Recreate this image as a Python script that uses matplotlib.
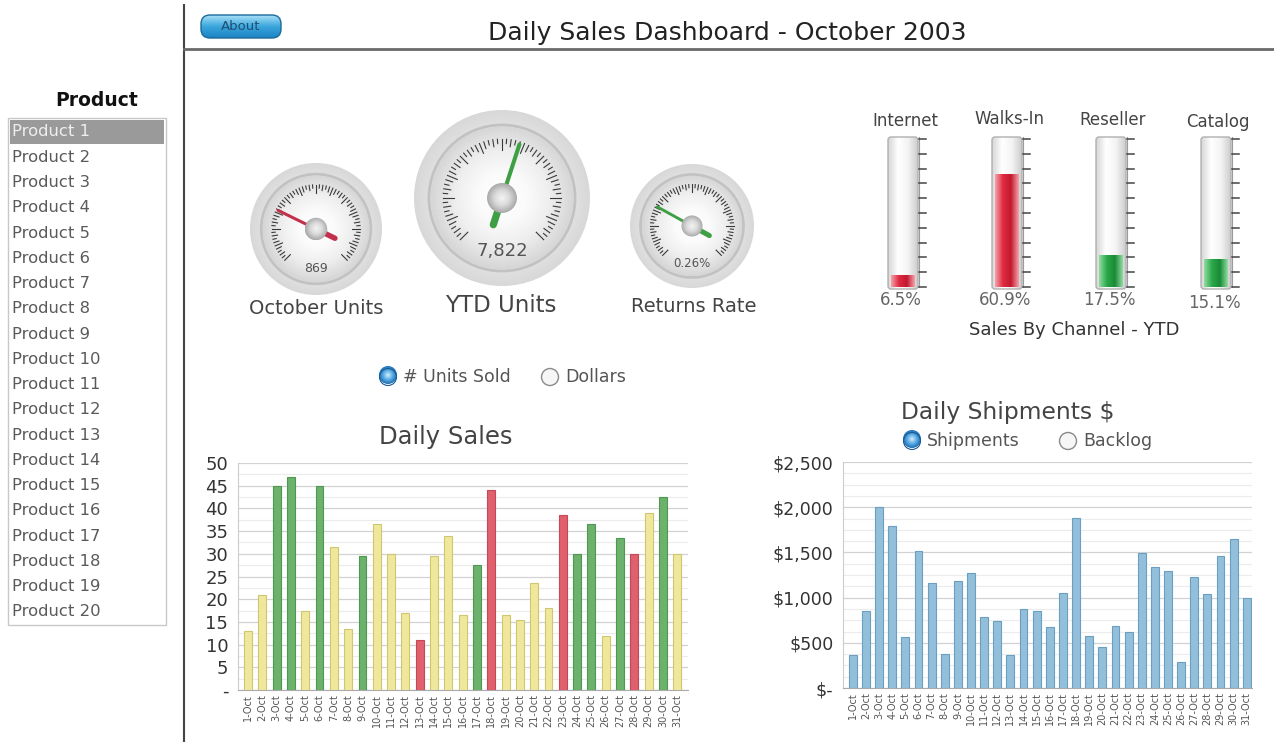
import matplotlib.pyplot as plt
import numpy as np
from matplotlib.patches import Circle, FancyBboxPatch, Rectangle
from matplotlib.colors import LinearSegmentedColormap
from matplotlib.ticker import FuncFormatter, MultipleLocator

W, H = 1274, 742

products = [f"Product {i}" for i in range(1, 21)]
days = [f"{d}-Oct" for d in range(1, 32)]

gauge_names = ["October Units", "YTD Units", "Returns Rate"]
gauge_values = [869, 7822, 0.26]
gauge_max = [3300, 13800, 0.95]
gauge_text = ["869", "7,822", "0.26%"]

channels = ["Internet", "Walks-In", "Reseller", "Catalog"]
channel_share = [6.5, 60.9, 17.5, 15.1]
channel_status = ["bad", "bad", "good", "good"]

units_sold = [13, 21, 45, 47, 17.5, 45, 31.5, 13.5, 29.5, 36.5, 30, 17, 11, 29.5, 34,
              16.5, 27.5, 44, 16.5, 15.5, 23.5, 18, 38.5, 30, 36.5, 12, 33.5, 30, 39,
              42.5, 30]
units_status = list("YYGGYGYYGYYYRYYYGRYYYYRGGYGRYGY")
shipments = [360, 850, 2000, 1790, 560, 1510, 1165, 380, 1180, 1275, 785, 745, 360,
             870, 855, 675, 1055, 1880, 575, 450, 690, 625, 1490, 1340, 1290, 290,
             1230, 1040, 1460, 1650, 1000]

TXT = "#444444"


def radial(ax, cx, cy, r, colors, z=2):
    yy, xx = np.mgrid[-1:1:200j, -1:1:200j]
    rr = np.sqrt(xx**2 + yy**2)
    cmap = LinearSegmentedColormap.from_list("g", colors)
    im = ax.imshow(rr, cmap=cmap, vmin=0, vmax=1, zorder=z,
                   extent=(cx - r, cx + r, cy + r, cy - r), interpolation="bilinear")
    c = Circle((cx, cy), r, fc="none", ec="none")
    ax.add_patch(c)
    im.set_clip_path(c)


def hgrad(ax, x0, y0, w, h, colors, clip, z=2):
    cmap = LinearSegmentedColormap.from_list("h", colors)
    im = ax.imshow(np.linspace(0, 1, 64)[None, :], cmap=cmap, zorder=z, aspect="auto",
                   extent=(x0, x0 + w, y0 + h, y0), interpolation="bilinear")
    ax.add_patch(clip)
    im.set_clip_path(clip)


def gauge(ax, cx, cy, r, value, vmax, text, ncolor, tsize):
    radial(ax, cx, cy, r, ["#ffffff", "#f6f6f6", "#e8e8e8", "#d8d8d8"])
    ax.add_patch(Circle((cx, cy), r * 0.83, fc="none", ec="#c2c2c2", lw=2, zorder=3))
    radial(ax, cx, cy, r * 0.81, ["#ffffff", "#fbfbfb", "#eeeeee", "#d6d6d6"], z=3)
    n = 60
    for i in range(n + 1):
        a = np.radians(225 - 270 * i / n)
        ln = r * 0.12 if i % 5 == 0 else (r * 0.08 if i % 2 == 0 else r * 0.05)
        r1 = r * 0.67
        ax.plot([cx + r1 * np.cos(a), cx + (r1 - ln) * np.cos(a)],
                [cy - r1 * np.sin(a), cy - (r1 - ln) * np.sin(a)],
                color="#3a3a3a", lw=0.8, zorder=4)
    a = np.radians(225 - 270 * value / vmax)
    ax.plot([cx, cx + r * 0.64 * np.cos(a)], [cy, cy - r * 0.64 * np.sin(a)],
            color=ncolor, lw=r / 30, solid_capstyle="round", zorder=5)
    ax.plot([cx, cx - r * 0.32 * np.cos(a)], [cy, cy + r * 0.32 * np.sin(a)],
            color=ncolor, lw=r / 17, solid_capstyle="round", zorder=5)
    radial(ax, cx, cy, r * 0.17, ["#f4f4f4", "#dadada", "#a8a8a8"], z=6)
    ax.text(cx, cy + r * 0.6, text, ha="center", va="center", fontsize=tsize,
            color="#555555", zorder=7)


fig = plt.figure(figsize=(W / 100, H / 100), dpi=100)
bg = fig.add_axes([0, 0, 1, 1])
bg.axis("off")

# frame lines
bg.plot([184, 184], [5, 742], color="#444444", lw=1.5)
bg.plot([184, 1274], [49, 49], color="#6a6a6a", lw=2)

# about button
btn = FancyBboxPatch((201, 15), 80, 23, boxstyle="round,pad=0,rounding_size=9",
                     fc="none", ec="#1b6a9c", lw=1, zorder=3)
cm_btn = LinearSegmentedColormap.from_list("b", ["#a6def6", "#3aa6dc", "#1c84c4"])
im = bg.imshow(np.linspace(0, 1, 32)[:, None], cmap=cm_btn, aspect="auto", zorder=2,
               extent=(201, 281, 38, 15))
bg.add_patch(btn)
im.set_clip_path(btn)
bg.text(241, 27, "About", ha="center", va="center", fontsize=9.5, color="#1f4e72", zorder=4)
bg.text(727, 33, "Daily Sales Dashboard - October 2003", ha="center", va="center",
        fontsize=18, color="#222222")

# product list
bg.text(97, 101, "Product", ha="center", va="center", fontsize=13.5,
        fontweight="bold", color="#111111")
bg.add_patch(Rectangle((8, 118), 158, 507, fc="white", ec="#c8c8c8", lw=1))
bg.add_patch(Rectangle((10, 120), 154, 24, fc="#9a9a9a", ec="none"))
for i, p in enumerate(products):
    bg.text(12, 132 + i * 25.26, p, ha="left", va="center", fontsize=11.8,
            color="#eeeeee" if i == 0 else "#5a5a5a")

# gauges
centers = [(316, 229, 66), (502, 198, 88), (692, 226, 62)]
needles = ["#c3304c", "#3f9f45", "#3f9f45"]
vsizes = [9, 13, 8.5]
for (cx, cy, r), v, vm, t, nc, vs in zip(centers, gauge_values, gauge_max,
                                        gauge_text, needles, vsizes):
    gauge(bg, cx, cy, r, v, vm, t, nc, vs)
bg.text(316, 308, gauge_names[0], ha="center", va="center", fontsize=14, color=TXT)
bg.text(501, 306, gauge_names[1], ha="center", va="center", fontsize=16.5, color=TXT)
bg.text(694, 306, gauge_names[2], ha="center", va="center", fontsize=14, color=TXT)

# channel thermometers
tube_x = [888, 992, 1096, 1201]
label_y = [121, 119, 120, 122]
val_y = [300, 300, 300, 303]
top, bot, tw = 137, 289, 30
for x0, name, share, st, ly, vy in zip(tube_x, channels, channel_share,
                                       channel_status, label_y, val_y):
    box = FancyBboxPatch((x0, top), tw, bot - top, boxstyle="round,pad=0,rounding_size=3",
                         fc="none", ec="none", zorder=3)
    hgrad(bg, x0, top, tw, bot - top, ["#d6d6d6", "#ffffff", "#f4f4f4", "#cdcdcd"], box)
    bg.add_patch(FancyBboxPatch((x0, top), tw, bot - top,
                                boxstyle="round,pad=0,rounding_size=3",
                                fc="none", ec="#b0b0b0", lw=1, zorder=4))
    span = bot - top - 4
    fh = span * share / 80
    cols = (["#f5a0a8", "#de2a40", "#c41a30", "#f5a0a8"] if st == "bad"
            else ["#90dca0", "#2aa848", "#1a8a38", "#90dca0"])
    fill = Rectangle((x0 + 3, bot - 2 - fh), tw - 6, fh, fc="none", ec="none")
    hgrad(bg, x0 + 3, bot - 2 - fh, tw - 6, fh, cols, fill, z=5)
    bg.plot([x0 + tw + 1, x0 + tw + 1], [top, bot - 2], color="#9a9a9a", lw=0.8, zorder=5)
    for k in range(11):
        ty = bot - 2 - k * span / 10
        bg.plot([x0 + tw + 1, x0 + tw + 8], [ty, ty], color="#444444", lw=1.1, zorder=5)
    bg.text(x0 + tw / 2 + 2, ly, name, ha="center", va="center", fontsize=12, color=TXT)
    bg.text(x0 + tw / 2 - 2, vy, f"{share}%", ha="center", va="center",
            fontsize=12, color="#666666")
bg.text(1074, 330, "Sales By Channel - YTD", ha="center", va="center", fontsize=13,
        color="#333333")


def radio(ax, x, y, label, on):
    if on:
        radial(ax, x, y - 2, 9, ["#d6effc", "#5fb0e6", "#1d6eb6"], z=3)
        ax.add_patch(Circle((x, y), 8.5, fc="none", ec="#1a5a96", lw=0.8, zorder=4))
    else:
        ax.add_patch(Circle((x, y), 8.5, fc="#f6f6f6", ec="#8a8a8a", lw=1, zorder=4))
    ax.text(x + 15, y, label, ha="left", va="center", fontsize=12.5, color="#555555")


radio(bg, 388, 377, "# Units Sold", True)
radio(bg, 550, 377, "Dollars", False)
radio(bg, 912, 441, "Shipments", True)
radio(bg, 1068, 441, "Backlog", False)

bg.text(446, 437, "Daily Sales", ha="center", va="center", fontsize=17.5, color=TXT)
bg.text(1008, 413, "Daily Shipments $", ha="center", va="center", fontsize=16.8, color=TXT)

bg.set_xlim(0, W)
bg.set_ylim(H, 0)
bg.set_aspect("auto")

# daily sales bars
status_col = {"Y": "#efe79c", "G": "#6cb26c", "R": "#e0606e"}
status_edge = {"Y": "#cfc670", "G": "#4f984f", "R": "#c44858"}
x = np.arange(len(days))
ax1 = fig.add_axes([238 / W, 1 - 690 / H, 450 / W, 227 / H])
ax1.bar(x, units_sold, width=0.55, color=[status_col[s] for s in units_status],
        edgecolor=[status_edge[s] for s in units_status], linewidth=0.8, zorder=3)
ax1.set_xlim(-0.7, 30.75)
ax1.set_ylim(0, 50)
ax1.yaxis.set_major_locator(MultipleLocator(5))
ax1.yaxis.set_minor_locator(MultipleLocator(2.5))
ax1.yaxis.set_major_formatter(FuncFormatter(lambda v, p: "-" if v == 0 else f"{v:.0f}"))

ax2 = fig.add_axes([843 / W, 1 - 688 / H, 409 / W, 226 / H])
ax2.bar(x, shipments, width=0.6, color="#93bfdb", edgecolor="#6a9fc2", linewidth=0.8,
        zorder=3)
ax2.set_xlim(-0.75, 30.4)
ax2.set_ylim(0, 2500)
ax2.yaxis.set_major_locator(MultipleLocator(500))
ax2.yaxis.set_minor_locator(MultipleLocator(125))
ax2.yaxis.set_major_formatter(FuncFormatter(lambda v, p: "$-" if v == 0 else f"${v:,.0f}"))

for ax, ys in ((ax1, 13), (ax2, 12.5)):
    ax.set_xticks(x)
    ax.set_xticklabels(days, rotation=90, fontsize=7, color="#555555")
    ax.tick_params(axis="x", length=0, pad=3)
    ax.tick_params(axis="y", which="both", length=0, labelsize=ys, labelcolor="#333333",
                   pad=7)
    ax.grid(axis="y", which="major", color="#d2d2d2", lw=0.9, zorder=0)
    ax.grid(axis="y", which="minor", color="#ececec", lw=0.8, zorder=0)
    for s in ("top", "right"):
        ax.spines[s].set_visible(False)
    ax.spines["left"].set_color("#cccccc")
    ax.spines["bottom"].set_color("#aaaaaa")
    ax.set_axisbelow(True)

fig.savefig("out.png", dpi=100)
